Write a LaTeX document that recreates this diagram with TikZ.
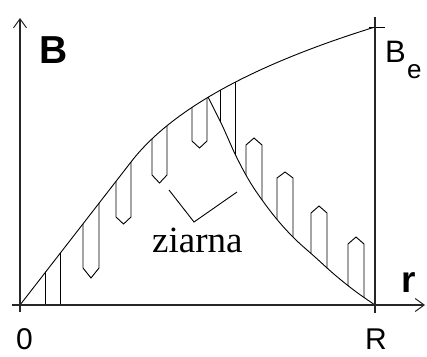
\documentclass[tikz,border=0pt]{standalone}
\usepackage{fontspec}
\setmainfont{Liberation Serif}
\setsansfont{Liberation Sans}
\usetikzlibrary{arrows.meta}
\begin{document}
\begin{tikzpicture}[x=1pt,y=-1pt,
  axis/.style={line width=1.3pt, black!85},
  curve/.style={line width=0.9pt, black},
  grain/.style={line width=0.9pt, black},
  tip/.style={-{Straight Barb[length=9pt,width=13pt,line width=1pt]}},
  lbl/.style={inner sep=0pt, anchor=base west}]
\useasboundingbox (0,0) rectangle (427,356);
% grains hanging from the rising curve
\begin{scope}
\clip (20,305) -- (131,162) .. controls (171,110) and (252.3,65) .. (375,27) -- (375,400) -- (0,400) -- cycle;
\draw[grain] (45,0) -- (45,305) (60,0) -- (60,305);
\draw[grain] (83,0) -- (83,268) -- (91,278) -- (99,268) -- (99,0);
\draw[grain] (116,0) -- (116,217) -- (123.5,224) -- (131,217) -- (131,0);
\draw[grain] (152,0) -- (152,175) -- (159.5,183) -- (167,175) -- (167,0);
\draw[grain] (192,0) -- (192,141) -- (199.5,148) -- (207,141) -- (207,0);
\end{scope}
% grains standing on the falling curve
\begin{scope}
\clip (20,305) -- (131,162) .. controls (171,110) and (252.3,65) .. (375,27) -- (375,400) -- (0,400) -- cycle;
\clip plot[smooth,tension=0.6] coordinates {(208,97) (222,125) (236,156) (250,182) (265,204) (280,223) (296,240) (315,257) (335,275) (355,291) (375,305)} -- (427,305) -- (427,0) -- (208,0) -- cycle;
\draw[grain] (220,0) -- (220,400) (235,0) -- (235,400);
\draw[grain] (246,400) -- (246,145) -- (254,138) -- (262,145) -- (262,400);
\draw[grain] (277,400) -- (277,178) -- (285,172) -- (293,178) -- (293,400);
\draw[grain] (311,400) -- (311,213) -- (319,206) -- (327,213) -- (327,400);
\draw[grain] (348,400) -- (348,244) -- (356,237) -- (364,244) -- (364,400);
\end{scope}
% curves
\draw[curve] (20,305) -- (131,162) .. controls (171,110) and (252.3,65) .. (375,27);
\draw[curve] plot[smooth,tension=0.6] coordinates {(208,97) (222,125) (236,156) (250,182) (265,204) (280,223) (296,240) (315,257) (335,275) (355,291) (375,305)};
\draw[curve] (369,27) -- (385,27);
% axes
\draw[axis] (375,17) -- (375,313);
\draw[axis,tip] (20,312) -- (20,18);
\draw[axis,tip] (12,305) -- (425,305);
% pointer
\draw[grain] (169,190) -- (194,222) -- (237,192);
% labels
\node[lbl,font=\sffamily\bfseries\fontsize{39}{39}\selectfont] (labB) at (39,63) {B};
\node[lbl,font=\sffamily\fontsize{31}{31}\selectfont] (labBe) at (385,62) {B};
\node[lbl,font=\sffamily\fontsize{26}{26}\selectfont] (labe) at (407,78) {e};
\node[lbl,font=\sffamily\bfseries\fontsize{37}{37}\selectfont] (labr) at (401.5,292) {r};
\node[lbl,font=\sffamily\fontsize{30}{30}\selectfont] (lab0) at (16,349) {0};
\node[lbl,font=\sffamily\fontsize{30}{30}\selectfont] (labR) at (365,349) {R};
\node[lbl,font=\rmfamily\fontsize{37}{37}\selectfont] (labz) at (152,252) {ziarna};
\end{tikzpicture}
\end{document}
